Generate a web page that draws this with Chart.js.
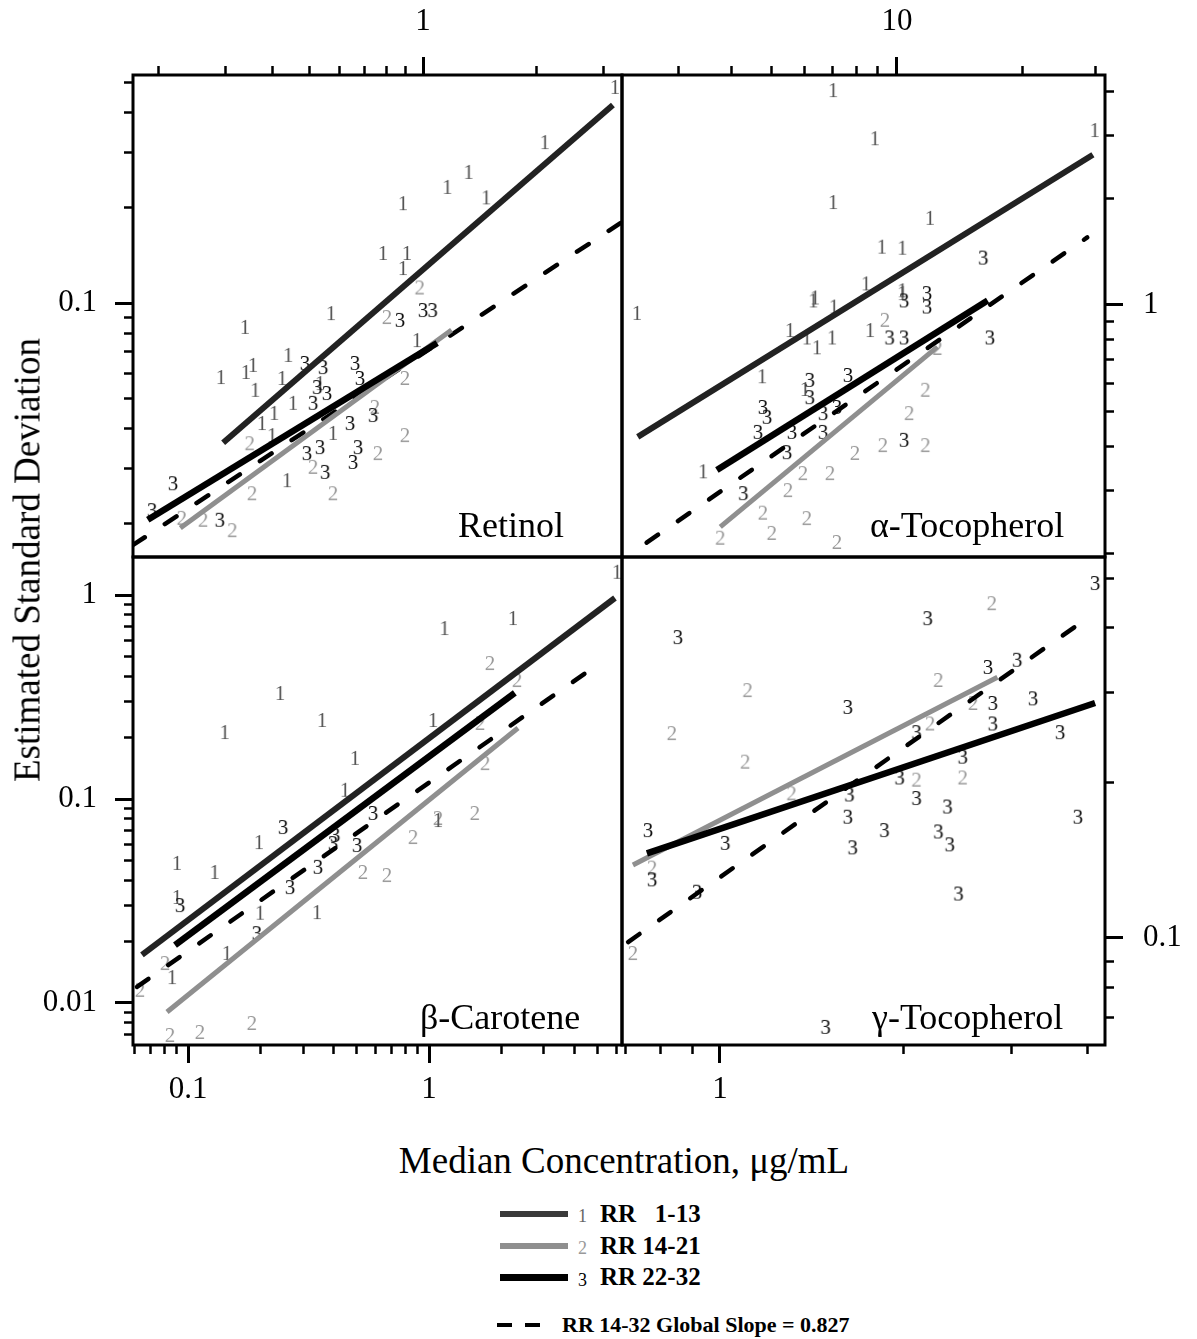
<!DOCTYPE html>
<html>
<head>
<meta charset="utf-8">
<script src="https://cdn.jsdelivr.net/npm/chart.js@4.4.0/dist/chart.umd.min.js"></script>
<style>
  body { margin: 0; background: #fff; }
  #page { position: relative; width: 1197px; height: 1339px; overflow: hidden;
          font-family: "Liberation Serif", "Times New Roman", serif; color: #000; }
  #page canvas { position: absolute; }
  .txt { position: absolute; white-space: pre; z-index: 5; }
  .name { font-size: 36px; line-height: 36px; }
  .title { font-size: 37px; line-height: 37px; transform: translate(-50%, -50%); }
  .leg { font-weight: bold; font-size: 25px; line-height: 26px; }
  .leg.glob { font-size: 22px; }
  .digit { font-size: 18px; line-height: 18px; }
  .swatch { position: absolute; z-index: 5; }
</style>
</head>
<body>
<div id="page">
  <canvas id="retinolChart" width="662" height="597" style="left:0px;top:0px"></canvas>
  <canvas id="alphaChart" width="615" height="597" style="left:582px;top:0px"></canvas>
  <canvas id="betaChart" width="662" height="618" style="left:0px;top:517px"></canvas>
  <canvas id="gammaChart" width="615" height="618" style="left:582px;top:517px"></canvas>

  <div class="txt name" style="left:458px;top:507px">Retinol</div>
  <div class="txt name" style="left:870px;top:507px">α-Tocopherol</div>
  <div class="txt name" style="left:420px;top:999px">β-Carotene</div>
  <div class="txt name" style="left:872px;top:999px">γ-Tocopherol</div>

  <div class="txt title" style="left:27px;top:560px;transform:translate(-50%,-50%) rotate(-90deg)">Estimated Standard Deviation</div>
  <div class="txt title" style="left:624px;top:1160px">Median Concentration, μg/mL</div>

  <div class="swatch" style="left:500px;top:1211px;width:68px;height:6px;background:#3a3a3a"></div>
  <div class="txt digit" style="left:578px;top:1207px;color:#666">1</div>
  <div class="txt leg" style="left:600px;top:1201px">RR   1-13</div>
  <div class="swatch" style="left:500px;top:1243px;width:68px;height:6px;background:#8f8f8f"></div>
  <div class="txt digit" style="left:578px;top:1239px;color:#999">2</div>
  <div class="txt leg" style="left:600px;top:1233px">RR 14-21</div>
  <div class="swatch" style="left:500px;top:1274px;width:68px;height:7px;background:#000"></div>
  <div class="txt digit" style="left:578px;top:1271px">3</div>
  <div class="txt leg" style="left:600px;top:1264px">RR 22-32</div>
  <div class="swatch" style="left:497px;top:1323px;width:15px;height:4px;background:#000"></div>
  <div class="swatch" style="left:525px;top:1323px;width:15px;height:4px;background:#000"></div>
  <div class="txt leg glob" style="left:562px;top:1312px">RR 14-32 Global Slope = 0.827</div>
</div>

<script>
// ---- Retinol (median, SD) ----
var retinolRR1 = [[3.22,0.483],[2.10,0.323],[1.32,0.260],[1.16,0.233],[1.47,0.216],[0.885,0.207],
  [0.784,0.144],[0.907,0.144],[0.885,0.129],[0.571,0.0929],[0.338,0.084],[0.44,0.0685],[0.355,0.0637],
  [0.292,0.0583],[0.34,0.0605],[0.424,0.0579],[0.36,0.0531],[0.404,0.0449],[0.453,0.0483],[0.375,0.0417],
  [0.399,0.0382],[0.437,0.0275],[0.964,0.0763],[0.534,0.0558],[0.578,0.0388]];
var retinolRR2 = [[0.896,0.0382],[0.76,0.0335],[0.578,0.025],[0.353,0.025],[0.262,0.0206],[0.313,0.0191],
  [0.23,0.0209],[0.746,0.0469],[0.896,0.0579],[0.98,0.112],[0.803,0.0903],[0.348,0.036],[0.512,0.0303]];
var retinolRR3 = [[0.218,0.0269],[0.192,0.0221],[0.29,0.0206],[0.487,0.0646],[0.544,0.0627],[0.661,0.0646],
  [0.681,0.0579],[0.525,0.0542],[0.557,0.0519],[0.512,0.0483],[0.641,0.0417],[0.738,0.0442],[0.534,0.035],
  [0.493,0.0335],[0.673,0.035],[0.653,0.0314],[0.551,0.0292],[0.869,0.0884],[1.0,0.095],[1.06,0.095]];
var retinolFit1 = [[0.296,0.0361],[3.18,0.423]];
var retinolFit2 = [[0.228,0.0194],[1.19,0.0821]];
var retinolFit3 = [[0.187,0.0206],[1.09,0.0747]];
var retinolGlobal = [[0.171,0.01715],[3.36,0.1804]];

// ---- alpha-Tocopherol ----
var alphaRR1 = [[7.03,4.03],[8.85,2.95],[7.03,1.95],[12.0,1.76],[29.8,3.11],[9.2,1.46],[10.3,1.45],
  [8.43,1.15],[10.3,1.08],[6.36,1.05],[2.38,0.95],[6.3,1.03],[7.06,0.99],[5.54,0.85],[6.08,0.81],
  [6.43,0.76],[6.99,0.81],[8.62,0.85],[4.75,0.63],[6.02,0.58],[3.43,0.34],[10.3,1.10]];
var alphaRR2 = [[11.7,0.577],[10.7,0.496],[11.7,0.403],[9.25,0.403],[7.93,0.383],[6.91,0.336],[5.95,0.336],
  [5.48,0.301],[4.77,0.26],[6.08,0.251],[5.01,0.228],[3.77,0.221],[7.18,0.215],[12.5,0.757],[9.36,0.908]];
var alphaRR3 = [[16.1,1.36],[11.8,1.08],[10.4,1.03],[11.8,0.99],[16.7,0.81],[9.6,0.81],[10.4,0.81],
  [7.63,0.635],[6.18,0.615],[6.18,0.55],[4.77,0.516],[4.88,0.484],[4.64,0.439],[5.6,0.439],[6.65,0.439],
  [7.18,0.516],[5.45,0.385],[4.28,0.295],[10.4,0.417],[6.65,0.496]];
var alphaFit1 = [[2.39,0.425],[29.5,2.65]];
var alphaFit2 = [[3.77,0.237],[12.5,0.762]];
var alphaFit3 = [[3.70,0.343],[16.5,1.03]];
var alphaGlobal = [[2.51,0.214],[28.6,1.55]];

// ---- beta-Carotene ----
var betaRR1 = [[1.16,0.689],[2.23,0.771],[0.241,0.331],[0.36,0.244],[0.142,0.213],[1.04,0.244],
  [0.493,0.159],[0.448,0.111],[6.03,1.30],[0.197,0.0615],[0.09,0.0486],[0.129,0.0439],[0.09,0.0331],
  [0.0859,0.0134],[0.145,0.0176],[0.343,0.0279],[0.199,0.0277],[1.09,0.0789]];
var betaRR2 = [[0.532,0.0439],[0.669,0.0424],[0.859,0.0651],[1.09,0.0807],[1.55,0.0854],[0.112,0.00721],
  [0.184,0.00798],[0.0842,0.00697],[0.0803,0.0157],[0.0632,0.0116],[1.79,0.464],[2.32,0.383],
  [1.63,0.236],[1.71,0.15]];
var betaRR3 = [[0.248,0.0729],[0.0927,0.0302],[0.346,0.0465],[0.265,0.037],[0.193,0.022],[0.4,0.0608],
  [0.503,0.0595],[0.586,0.0854],[0.408,0.0667]];
var betaFit1 = [[0.0644,0.0172],[5.91,0.967]];
var betaFit2 = [[0.0818,0.00904],[2.34,0.223]];
var betaFit3 = [[0.0883,0.0192],[2.27,0.331]];
var betaGlobal = [[0.0614,0.012],[5.12,0.464]];

// ---- gamma-Tocopherol (no RR 1-13 data) ----
var gammaRR2 = [[2.79,0.447],[1.11,0.303],[0.834,0.25],[1.10,0.22],[2.28,0.317],[2.50,0.205],[2.10,0.203],
  [2.21,0.261],[2.60,0.286],[0.72,0.0935],[0.774,0.137],[1.31,0.191]];
var gammaRR3 = [[4.12,0.489],[2.19,0.418],[0.853,0.384],[1.62,0.281],[2.75,0.336],[3.07,0.347],[3.26,0.292],
  [2.80,0.286],[2.80,0.261],[3.61,0.251],[2.50,0.225],[1.97,0.205],[1.63,0.19],[2.10,0.187],[2.36,0.18],
  [2.10,0.251],[1.62,0.172],[1.86,0.162],[1.65,0.15],[2.28,0.161],[2.38,0.152],[0.762,0.162],[1.02,0.153],
  [0.774,0.13],[0.917,0.123],[2.46,0.122],[3.86,0.172],[1.49,0.0672]];
var gammaFit2 = [[0.72,0.1386],[2.85,0.321]];
var gammaFit3 = [[0.759,0.146],[4.12,0.286]];
var gammaGlobal = [[0.707,0.0982],[4.0,0.418]];

// axis ranges and labelled ticks
var retinolXRange = [0.1709, 3.361], retinolYRange = [0.01571, 0.5267];
var alphaXRange = [2.191, 31.54], alphaYRange = [0.195, 4.445];
var betaXRange = [0.05911, 6.322], betaYRange = [0.006224, 1.536];
var gammaXRange = [0.6909, 4.277], gammaYRange = [0.06197, 0.5494];
var retinolXLabels = ['1'], retinolYLabels = ['0.1'];
var alphaXLabels = ['10'], alphaYLabels = ['1'];
var betaXLabels = ['0.1', '1'], betaYLabels = ['0.01', '0.1', '1'];
var gammaXLabels = ['1'], gammaYLabels = ['0.1'];

var serif = '"Liberation Serif", "Times New Roman", serif';

function digitMarker(ch, color) {
  var c = document.createElement('canvas');
  c.width = 16; c.height = 24;
  var ctx = c.getContext('2d');
  ctx.font = '21px ' + serif;
  ctx.fillStyle = color;
  ctx.textAlign = 'center';
  ctx.textBaseline = 'middle';
  ctx.fillText(ch, 8, 13);
  return c;
}
var mark1 = digitMarker('1', '#555');
var mark2 = digitMarker('2', '#9a9a9a');
var mark3 = digitMarker('3', '#111');

function logTicks(min, max) {
  var ticks = [];
  for (var e = Math.floor(Math.log10(min)); e <= Math.ceil(Math.log10(max)); e++) {
    for (var m = 1; m < 10; m++) {
      var v = +(m * Math.pow(10, e)).toPrecision(3);
      if (v >= min && v <= max) ticks.push({ value: v, major: m === 1 });
    }
  }
  return ticks;
}

function logAxis(position, range, labels, size, labelPad) {
  var outerFirst = position === 'top' || position === 'left';
  return {
    type: 'logarithmic',
    position: position,
    min: range[0],
    max: range[1],
    afterBuildTicks: function (scale) { scale.ticks = logTicks(range[0], range[1]); },
    afterFit: function (scale) {
      if (scale.isHorizontal()) scale.height = size; else scale.width = size;
    },
    border: { display: false },
    grid: {
      drawOnChartArea: false,
      tickLength: 18,
      tickColor: '#000',
      tickWidth: function (c) { return c.tick && c.tick.major ? 3 : 2.5; },
      tickBorderDash: function (c) { return c.tick && c.tick.major ? [] : [9, 9]; },
      tickBorderDashOffset: function (c) { return c.tick && c.tick.major ? 0 : (outerFirst ? 9 : 0); }
    },
    ticks: {
      autoSkip: false,
      maxRotation: 0,
      minRotation: 0,
      color: '#000',
      padding: labelPad,
      font: { family: serif, size: 31 },
      callback: function (v) {
        var s = String(+Number(v).toPrecision(3));
        return labels.indexOf(s) >= 0 ? s : '';
      }
    }
  };
}

function pts(list) {
  return list.map(function (p) { return { x: p[0], y: p[1] }; });
}

function fitSet(ends, color, width, dash) {
  return {
    type: 'line',
    data: pts(ends),
    borderColor: color,
    borderWidth: width,
    borderDash: dash || [],
    borderCapStyle: dash ? 'round' : 'butt',
    pointRadius: 0,
    fill: false,
    tension: 0
  };
}

function markSet(list, marker) {
  return { type: 'scatter', data: pts(list), pointStyle: marker, pointRadius: 9, showLine: false };
}

var frame = {
  id: 'frame',
  afterDraw: function (chart) {
    var a = chart.chartArea, ctx = chart.ctx;
    ctx.save();
    ctx.lineWidth = 3;
    ctx.strokeStyle = '#000';
    ctx.strokeRect(a.left, a.top, a.right - a.left, a.bottom - a.top);
    ctx.restore();
  }
};

function makePanel(id, datasets, xAxis, yAxis, pad) {
  return new Chart(document.getElementById(id), {
    type: 'scatter',
    data: { datasets: datasets },
    options: {
      responsive: false,
      animation: false,
      devicePixelRatio: 1,
      layout: { padding: pad },
      plugins: { legend: { display: false }, tooltip: { enabled: false } },
      scales: { x: xAxis, y: yAxis }
    },
    plugins: [frame]
  });
}

var dash = [14, 24];

makePanel('retinolChart', [
  fitSet(retinolFit3, '#000', 6.5),
  fitSet(retinolFit1, '#222', 6),
  fitSet(retinolFit2, '#8f8f8f', 5),
  fitSet(retinolGlobal, '#000', 4.5, dash),
  markSet(retinolRR3, mark3),
  markSet(retinolRR1, mark1),
  markSet(retinolRR2, mark2)
], logAxis('top', retinolXRange, retinolXLabels, 75, 17),
   logAxis('left', retinolYRange, retinolYLabels, 133, 18),
   { left: 0, top: 0, right: 40, bottom: 40 });

makePanel('alphaChart', [
  fitSet(alphaFit3, '#000', 6.5),
  fitSet(alphaFit1, '#222', 6),
  fitSet(alphaFit2, '#8f8f8f', 5),
  fitSet(alphaGlobal, '#000', 4.5, dash),
  markSet(alphaRR3, mark3),
  markSet(alphaRR1, mark1),
  markSet(alphaRR2, mark2)
], logAxis('top', alphaXRange, alphaXLabels, 75, 17),
   logAxis('right', alphaYRange, alphaYLabels, 92, 20),
   { left: 40, top: 0, right: 0, bottom: 40 });

makePanel('betaChart', [
  fitSet(betaFit3, '#000', 6.5),
  fitSet(betaFit1, '#222', 6),
  fitSet(betaFit2, '#8f8f8f', 5),
  fitSet(betaGlobal, '#000', 4.5, dash),
  markSet(betaRR3, mark3),
  markSet(betaRR1, mark1),
  markSet(betaRR2, mark2)
], logAxis('bottom', betaXRange, betaXLabels, 90, 8),
   logAxis('left', betaYRange, betaYLabels, 133, 18),
   { left: 0, top: 40, right: 40, bottom: 0 });

makePanel('gammaChart', [
  fitSet(gammaFit3, '#000', 6.5),
  fitSet(gammaFit2, '#8f8f8f', 5),
  fitSet(gammaGlobal, '#000', 4.5, dash),
  markSet(gammaRR3, mark3),
  markSet(gammaRR2, mark2)
], logAxis('bottom', gammaXRange, gammaXLabels, 90, 8),
   logAxis('right', gammaYRange, gammaYLabels, 92, 20),
   { left: 40, top: 40, right: 0, bottom: 0 });
</script>
</body>
</html>
